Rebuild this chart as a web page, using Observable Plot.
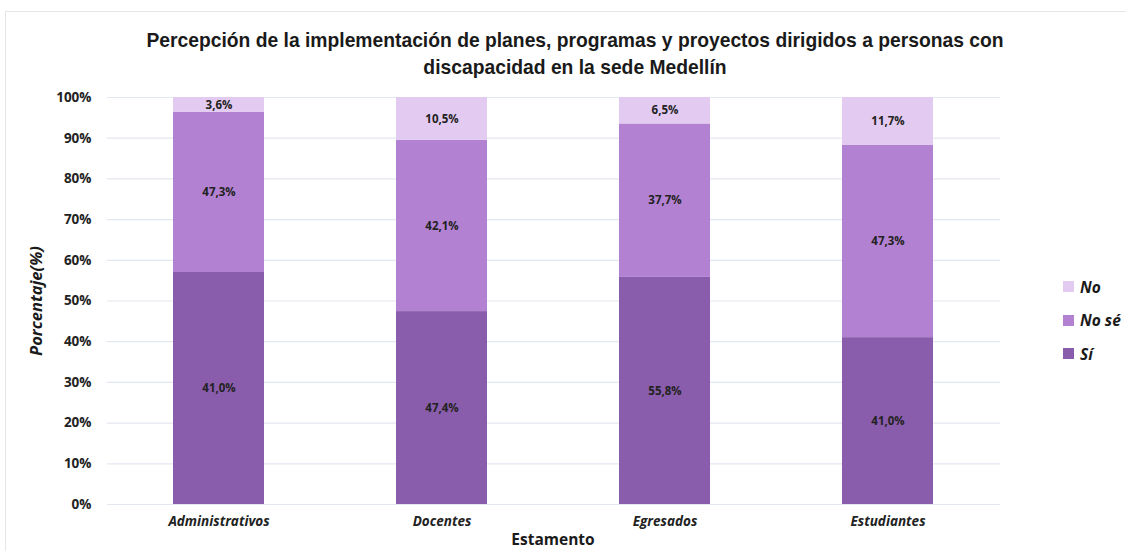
<!DOCTYPE html>
<html>
<head>
<meta charset="utf-8">
<script src="https://cdn.jsdelivr.net/npm/d3@7"></script>
<script src="https://cdn.jsdelivr.net/npm/@observablehq/plot@0.6"></script>
<style>
  html, body { margin: 0; padding: 0; background: #fff; }
  #wrap { position: relative; width: 1126px; height: 551px; overflow: hidden; font-family: "Open Sans", Lato, sans-serif; }
  #frame { position: absolute; left: 5px; top: 11px; width: 1140px; height: 560px; border: 1px solid #e6e6e6; box-sizing: border-box; }
  #title { position: absolute; left: 12px; width: 1126px; top: 27px; text-align: center; font-family: "Liberation Sans Narrow", "Liberation Sans", sans-serif; font-weight: bold; font-size: 19.3px; line-height: 27px; color: #1a1a1a; }
  #ylab { position: absolute; left: 35px; top: 301px; transform: translate(-50%, -50%) rotate(-90deg); font-weight: bold; font-style: italic; font-size: 16.5px; color: #1a1a1a; white-space: nowrap; }
  #xlab { position: absolute; left: 553px; top: 530px; transform: translateX(-50%); font-weight: bold; font-size: 15.5px; line-height: 19px; color: #1a1a1a; white-space: nowrap; }
  #legend { position: absolute; left: 1063px; top: 270px; font-weight: bold; font-style: italic; font-size: 15.5px; color: #1a1a1a; }
  .li { display: flex; align-items: center; height: 33.5px; }
  .sw { width: 11px; height: 11px; margin-right: 6px; }
  #chart { position: absolute; left: 0; top: 0; }
</style>
</head>
<body>
<div id="wrap">
  <div id="frame"></div>
  <div id="chart"></div>
  <div id="title">Percepción de la implementación de planes, programas y proyectos dirigidos a personas con<br>discapacidad en la sede Medellín</div>
  <div id="ylab">Porcentaje(%)</div>
  <div id="xlab">Estamento</div>
  <div id="legend"></div>
</div>
<script>
const estamentos = ["Administrativos", "Docentes", "Egresados", "Estudiantes"];
const respuestas = ["Sí", "No sé", "No"];
const colores = ["#8a5dac", "#b281d1", "#e2caf0"];
// bar heights (as drawn)
const si = [57.0, 47.4, 55.8, 41.0];
const noSe = [39.4, 42.1, 37.7, 47.3];
const no = [3.6, 10.5, 6.5, 11.7];
// labels (as printed)
const etiquetasSi = ["41,0%", "47,4%", "55,8%", "41,0%"];
const etiquetasNoSe = ["47,3%", "42,1%", "37,7%", "47,3%"];
const etiquetasNo = ["3,6%", "10,5%", "6,5%", "11,7%"];
const yTicks = [0, 10, 20, 30, 40, 50, 60, 70, 80, 90, 100];
const legendOrder = ["No", "No sé", "Sí"];

const series = [[si, etiquetasSi], [noSe, etiquetasNoSe], [no, etiquetasNo]];
const data = [];
series.forEach(([vals, labs], k) => {
  estamentos.forEach((e, i) => {
    data.push({estamento: e, respuesta: respuestas[k], valor: vals[i], etiqueta: labs[i]});
  });
});

const chart = Plot.plot({
  width: 1126,
  height: 551,
  marginTop: 97,
  marginBottom: 47,
  marginLeft: 107,
  marginRight: 126,
  style: {fontFamily: "'Open Sans', Lato, sans-serif", background: "transparent"},
  x: {domain: estamentos, paddingInner: 0.59, paddingOuter: 0.295, label: null},
  y: {domain: [0, 100], label: null},
  color: {domain: respuestas, range: colores},
  marks: [
    Plot.gridY(yTicks, {stroke: "#e3e7ef", strokeOpacity: 1, strokeWidth: 1.2}),
    Plot.barY(data, {x: "estamento", y: "valor", fill: "respuesta", z: "respuesta"}),
    Plot.text(data, Plot.stackY({x: "estamento", y: "valor", z: "respuesta", text: "etiqueta", fill: "#222", fontWeight: "bold", fontSize: 11.5})),
    Plot.axisY(yTicks, {tickFormat: d => d + "%", tickSize: 0, tickPadding: 16, fontWeight: "bold", fontSize: 13.5, fill: "#222", label: null}),
    Plot.axisX({tickSize: 0, tickPadding: 12, fontWeight: "bold", fontStyle: "italic", fontSize: 13.5, fill: "#222", label: null})
  ]
});
document.getElementById("chart").appendChild(chart);

const legend = document.getElementById("legend");
legendOrder.forEach(r => {
  const row = document.createElement("div");
  row.className = "li";
  const sw = document.createElement("div");
  sw.className = "sw";
  sw.style.background = colores[respuestas.indexOf(r)];
  const t = document.createElement("span");
  t.textContent = r;
  row.appendChild(sw);
  row.appendChild(t);
  legend.appendChild(row);
});
</script>
</body>
</html>
